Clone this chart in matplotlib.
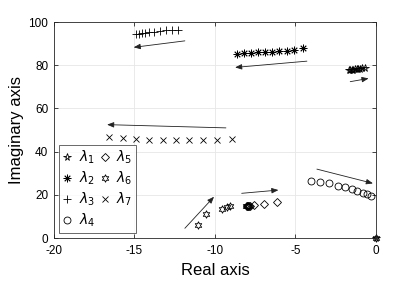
import numpy as np
import matplotlib
matplotlib.use('Agg')
import matplotlib.pyplot as plt

plt.rcParams['font.family'] = ['Liberation Sans', 'DejaVu Sans']
plt.rcParams['mathtext.fontset'] = 'dejavusans'
plt.rcParams['axes.unicode_minus'] = False

# 特征值轨迹数据 (实部, 虚部)
lam1_re = [-1.70, -1.60, -1.50, -1.40, -1.30, -1.20, -1.10, -1.00, -0.85, -0.70, 0.0]
lam1_im = [77.6, 77.8, 77.9, 78.0, 78.1, 78.2, 78.3, 78.4, 78.5, 78.7, 0.0]

lam2_re = [-8.65, -8.20, -7.76, -7.34, -6.89, -6.43, -6.02, -5.54, -5.08, -4.54]
lam2_im = [85.2, 85.5, 85.8, 86.0, 86.1, 86.3, 86.4, 86.6, 87.0, 87.8]

lam3_re = [-14.92, -14.73, -14.56, -14.36, -14.11, -13.78, -13.42, -13.07, -12.69, -12.28]
lam3_im = [94.4, 94.6, 94.8, 95.0, 95.3, 95.6, 95.9, 96.1, 96.3, 96.3]

lam4_re = [-4.04, -3.47, -2.89, -2.33, -1.91, -1.49, -1.15, -0.81, -0.56, -0.31]
lam4_im = [26.4, 26.1, 25.3, 24.2, 23.5, 22.7, 21.8, 21.0, 20.2, 19.6]

lam5_re = [-8.00, -7.95, -7.90, -7.85, -7.57, -6.95, -6.16]
lam5_im = [14.6, 14.7, 14.9, 15.0, 15.3, 15.6, 16.5]

lam6_re = [-11.05, -10.58, -9.58, -9.27, -9.07, -8.05, -7.98, -7.92, 0.0]
lam6_im = [6.0, 11.0, 13.4, 14.5, 14.8, 14.6, 14.8, 14.9, 0.0]

lam7_re = [-16.58, -15.74, -14.92, -14.09, -13.25, -12.43, -11.60, -10.73, -9.89, -8.96]
lam7_im = [46.9, 46.3, 45.8, 45.6, 45.5, 45.5, 45.5, 45.5, 45.6, 45.9]

# 箭头 (起点 -> 终点)
arrows = [
    ((-11.87, 91.3), (-15.05, 88.3)),
    ((-4.29, 81.9), (-8.75, 79.0)),
    ((-1.60, 72.4), (-0.46, 73.9)),
    ((-9.32, 51.0), (-16.70, 52.5)),
    ((-3.67, 31.9), (-0.19, 25.3)),
    ((-8.34, 20.7), (-6.06, 22.2)),
    ((-11.87, 4.5), (-10.06, 19.1)),
]

fig = plt.figure(figsize=(4.15, 2.83), dpi=100)
ax = fig.add_axes([0.130, 0.159, 0.776, 0.763])

hexagram = (6, 1, 0)
asterisk = (8, 2, 0)
kw = dict(linestyle='none', color='k', markerfacecolor='none', clip_on=False)

ax.plot(lam1_re, lam1_im, marker='*', ms=5.5, mew=0.6, label=r'$\lambda_1$', **kw)
ax.plot(lam2_re, lam2_im, marker=asterisk, ms=5.5, mew=0.6, label=r'$\lambda_2$', **kw)
ax.plot(lam3_re, lam3_im, marker='+', ms=6, mew=0.6, label=r'$\lambda_3$', **kw)
ax.plot(lam4_re, lam4_im, marker='o', ms=5, mew=0.6, label=r'$\lambda_4$', **kw)
ax.plot(lam5_re, lam5_im, marker='D', ms=4, mew=0.6, label=r'$\lambda_5$', **kw)
ax.plot(lam6_re, lam6_im, marker=hexagram, ms=5.5, mew=0.6, label=r'$\lambda_6$', **kw)
ax.plot(lam7_re, lam7_im, marker='x', ms=4.2, mew=0.6, label=r'$\lambda_7$', **kw)

for (x0, y0), (x1, y1) in arrows:
    ax.annotate('', xy=(x1, y1), xytext=(x0, y0),
                arrowprops=dict(arrowstyle='-|>,head_length=0.5,head_width=0.2',
                                color='#222222', lw=0.6,
                                mutation_scale=8, shrinkA=0, shrinkB=0))

ax.set_xlim(-20, 0)
ax.set_ylim(0, 100)
ax.set_xticks(np.arange(-20, 1, 5))
ax.set_yticks(np.arange(0, 101, 20))
ax.grid(True, color='#e6e6e6', lw=0.6)
ax.set_axisbelow(True)
ax.tick_params(direction='in', top=True, right=True, labelsize=8.5,
               length=3, width=0.6, color='#262626')
ax.tick_params(axis='x', pad=5)
ax.tick_params(axis='y', pad=4)
for s in ax.spines.values():
    s.set_linewidth(0.6)
    s.set_color('#262626')

ax.set_xlabel('Real axis', fontsize=12, labelpad=4)
ax.set_ylabel('Imaginary axis', fontsize=12, labelpad=3)

leg = ax.legend(ncol=2, loc='lower left', bbox_to_anchor=(0.016, 0.022),
                fontsize=10, frameon=True, fancybox=False, edgecolor='#262626',
                handlelength=0.6, handletextpad=0.5, columnspacing=0.4,
                labelspacing=0.25, borderpad=0.3, borderaxespad=0)
leg.get_frame().set_linewidth(0.6)

fig.savefig('out.png', dpi=100)
